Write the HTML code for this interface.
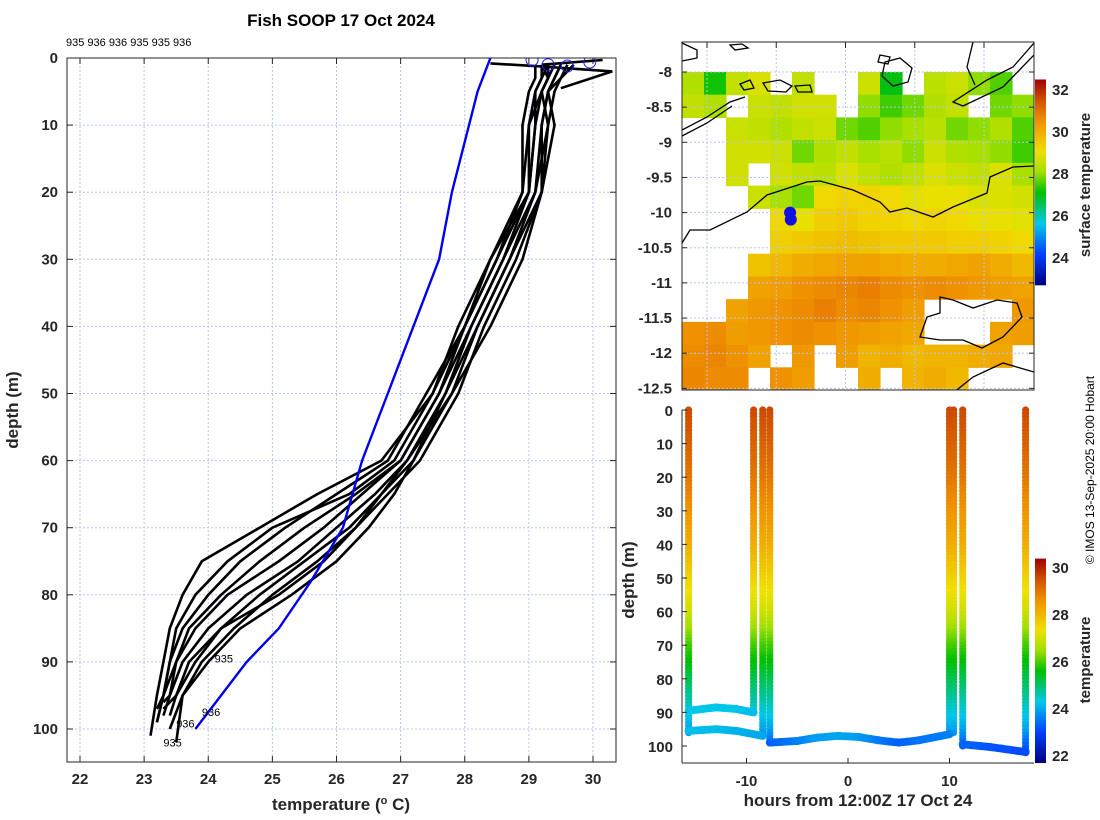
<!DOCTYPE html>
<html><head><meta charset="utf-8"><style>
html,body{margin:0;padding:0;background:#fff;}
svg{display:block;font-family:"Liberation Sans","DejaVu Sans",sans-serif;}
.tk{font-size:15px;font-weight:bold;fill:#262626;}
.lb{font-size:17px;font-weight:bold;fill:#262626;}
</style></head><body>
<svg id="s" width="1100" height="820" viewBox="0 0 1100 820">
<defs>
<linearGradient id="cb" x1="0" y1="1" x2="0" y2="0">
<stop offset="0" stop-color="#000080"/><stop offset="0.15" stop-color="#0040ff"/><stop offset="0.3" stop-color="#00c8e8"/><stop offset="0.45" stop-color="#00c000"/><stop offset="0.55" stop-color="#a0e000"/><stop offset="0.65" stop-color="#f0e000"/><stop offset="0.8" stop-color="#f09000"/><stop offset="0.9" stop-color="#d05000"/><stop offset="1" stop-color="#a00000"/>
</linearGradient>
<clipPath id="mapclip"><rect x="682" y="42" width="352" height="348"/></clipPath>
<clipPath id="lclip"><rect x="67" y="58" width="549" height="704"/></clipPath>
</defs>
<text x="341" y="26" text-anchor="middle" style="font-size:17px;font-weight:bold">Fish SOOP 17 Oct 2024</text>
<text x="66" y="46" style="font-size:11px">935 936 936 935 935 936</text>
<g id="left"></g>
<g id="map"></g>
<g id="low"></g>
<text transform="translate(1094,470) rotate(-90)" text-anchor="middle" style="font-size:12px">© IMOS 13-Sep-2025 20:00 Hobart</text>
</svg>
<script>
// ---------- LEFT PROFILE DATA ----------
const depths=[1,3,5,10,20,30,40,50,60,65,70,75,80,85,90,95,97];
const endDepth=[97,98,99,100,101,102,96,97,99,98];
const profiles=[
[29.2,29.3,29.2,29.1,29.0,28.6,28.1,27.6,27.0,26.3,25.5,24.8,24.2,23.7,23.5,23.3,23.2],
[29.5,29.4,29.3,29.2,29.1,28.7,28.2,27.7,27.1,26.6,26.0,25.4,24.6,24.0,23.6,23.4,23.3],
[29.3,29.2,29.1,29.0,28.9,28.4,27.9,27.5,26.9,26.2,25.0,24.3,23.8,23.5,23.4,23.3,23.2],
[29.6,29.5,29.4,29.3,29.2,28.8,28.3,27.9,27.3,26.8,26.3,25.7,25.0,24.4,23.9,23.6,23.4],
[29.1,29.1,29.0,28.9,28.9,28.5,28.0,27.5,26.7,25.7,24.8,23.9,23.6,23.4,23.3,23.2,23.1],
[29.4,29.3,29.2,29.3,29.1,28.6,28.1,27.7,27.2,26.9,26.5,26.0,25.3,24.5,24.0,23.6,23.5],
[29.2,29.2,29.1,29.1,29.0,28.5,28.0,27.6,27.0,26.4,25.8,25.1,24.3,23.8,23.5,23.4,23.3],
[29.7,29.5,29.3,29.2,29.2,28.9,28.4,27.8,27.2,26.7,26.2,25.5,24.8,24.2,23.7,23.5,23.3],
[29.3,29.3,29.2,29.0,29.0,28.4,28.0,27.4,26.8,26.0,25.2,24.5,24.0,23.6,23.4,23.3,23.2],
[29.5,29.4,29.3,29.4,29.2,28.7,28.2,27.8,27.1,26.7,26.3,25.8,25.1,24.2,23.8,23.5,23.4]];
const surfT=[28.4,29.1,30.3,29.5];
const surfD=[0.8,1.2,2.0,4.5];
const surf2T=[29.2,30.15];
const surf2D=[1.0,0.3];
const climT=[28.4,28.2,27.8,27.6,27.2,26.8,26.4,26.1,25.6,25.1,24.6,23.8];
const climD=[0,5,20,30,40,50,60,70,78,85,90,100];
const markT=[29.05,29.3,29.6,29.95];
const markD=[0.3,1.0,1.2,0.6];
const xTicks=[22,23,24,25,26,27,28,29,30];
const yTicks=[0,10,20,30,40,50,60,70,80,90,100];
const idLabels=["935","936","936","935"];
const idT=[24.1,23.9,23.5,23.3];
const idD=[89.5,97.5,99.2,102];

// ---------- MAP DATA ----------
const latTicks=[-8,-8.5,-9,-9.5,-10,-10.5,-11,-11.5,-12,-12.5];
const lonTicks=[127,128,129,130,131];
const sstGrid=[
[28.3,27.2,28.5,28.8,null,28.5,null,null,28.6,27,null,28.4,28.6,28,27.6,null],
[28.5,28.3,null,28.6,28.5,28.7,28.7,null,28,27.5,27.8,28.3,28.5,null,27.8,28],
[null,null,28.6,28.5,28.3,28.5,28.6,27.8,27.6,28,28.2,28.4,27.8,28,28.3,27.6],
[null,null,28.7,28.7,28.6,27.8,28.3,28.5,28.2,28.4,28,28.6,28.3,28.2,28,27.5],
[null,null,28.7,null,28.7,28.5,28.4,28.8,28.5,28.3,28.5,28.8,28.6,28.5,28.8,28.2],
[null,null,null,28.6,28.2,27.8,29.2,29.3,29.3,29.2,28.9,29,29,28.8,28.8,28.7],
[null,null,null,null,29.2,29.0,29.4,29.5,29.3,29.3,29.2,29.3,29.2,29,29,28.9],
[null,null,null,null,29.4,29.5,29.6,29.7,29.6,29.5,29.5,29.5,29.4,29.4,29.3,29.2],
[null,null,null,29.6,29.8,30,30.1,30.2,30.2,30.1,30.0,30.0,30.1,30.2,30,29.8],
[null,null,null,30.2,30.3,30.5,30.6,30.7,30.8,30.6,30.5,30.6,30.5,30.4,30.3,30.2],
[null,null,30.2,30.4,30.5,30.6,30.8,30.6,30.7,30.5,30.3,null,null,null,null,30.4],
[30.5,30.6,30.3,30.4,30.5,30.6,30.5,30.4,30.3,30.2,30.1,null,null,null,30.2,30.3],
[30.6,30.7,30.5,30.2,null,30.4,null,30.3,29.9,30.0,29.8,29.9,29.9,30.0,30.1,null],
[30.7,30.6,30.6,null,30.5,30.3,null,null,30,null,29.9,30,29.8,null,null,null]];
const shipLon=[128.2,128.21];
const shipLat=[-10.0,-10.1];
const sstCbTicks=[24,26,28,30,32];

// ---------- LOWER DATA ----------
const hrTicks=[-10,0,10];
const lowYTicks=[0,10,20,30,40,50,60,70,80,90,100];
const castHour=[-15.7,-9.3,-8.4,-7.7,10.0,10.4,11.3,17.5];
const castMax=[96,90,97,99,96,96,100,102];
const tProfD=[0,20,30,40,50,60,70,80,90,95,100,103];
const tProfT=[29.6,29.0,28.6,28.2,27.6,27.0,26.0,25.2,24.4,24.0,23.3,23.0];
const trackAH=[-15.7,-13,-11,-9.3], trackAD=[89.5,88.5,89,90], trackAT=[24.3,24.3,24.3,24.2];
const trackBH=[-15.7,-13,-11,-8.4], trackBD=[95.5,95,95.5,97], trackBT=[24.2,24.2,24.1,24.0];
const trackCH=[-7.7,-5,-3,-1,1,3,5,7,10], trackCD=[99,98.5,97.5,97,97.3,98.3,99,98.3,96.5], trackCT=[23.3,23.6,23.9,24.0,23.9,23.6,23.3,23.5,23.6];
const trackDH=[11.3,14,17.5], trackDD=[99.5,100.3,101.8], trackDT=[23.4,23.2,23.1];
const tCbTicks=[22,24,26,28,30];

const NS='http://www.w3.org/2000/svg';
function mk(p,tag,at){const e=document.createElementNS(NS,tag);for(const k in at)e.setAttribute(k,at[k]);p.appendChild(e);return e;}
const stops=[[0,[0,0,128]],[0.15,[0,64,255]],[0.3,[0,200,232]],[0.45,[0,192,0]],[0.55,[160,224,0]],[0.65,[240,224,0]],[0.8,[240,144,0]],[0.9,[208,80,0]],[1,[160,0,0]]];
function cmap(f){f=Math.max(0,Math.min(1,f));for(let i=1;i<stops.length;i++){if(f<=stops[i][0]){const a=stops[i-1],b=stops[i],t=(f-a[0])/(b[0]-a[0]);const c=a[1].map((v,j)=>Math.round(v+(b[1][j]-v)*t));return `rgb(${c})`;}}return 'rgb(160,0,0)';}

// ===== LEFT =====
const L=document.getElementById('left');
const lx=t=>80+(t-22)*64.125, ly=d=>58+d*6.71;
xTicks.forEach(t=>{const g=mk(L,'line',{x1:lx(t),x2:lx(t),y1:58,y2:762,stroke:'#b8c6ea','stroke-dasharray':'2,2','stroke-width':1});
 const tx=mk(L,'text',{x:lx(t),y:784,'text-anchor':'middle',class:'tk'});tx.textContent=t;
 mk(L,'line',{x1:lx(t),x2:lx(t),y1:762,y2:756,stroke:'#262626'});mk(L,'line',{x1:lx(t),x2:lx(t),y1:58,y2:64,stroke:'#262626'});});
yTicks.forEach(d=>{const g=mk(L,'line',{x1:67,x2:616,y1:ly(d),y2:ly(d),stroke:'#b8c6ea','stroke-dasharray':'2,2','stroke-width':1});
 const tx=mk(L,'text',{x:58,y:ly(d)+5,'text-anchor':'end',class:'tk'});tx.textContent=d;
 mk(L,'line',{x1:67,x2:73,y1:ly(d),y2:ly(d),stroke:'#262626'});mk(L,'line',{x1:616,x2:610,y1:ly(d),y2:ly(d),stroke:'#262626'});});
const LG=mk(L,'g',{'clip-path':'url(#lclip)'});
function pl(T,D){return T.map((t,i)=>lx(t).toFixed(1)+','+ly(D[i]).toFixed(1)).join(' ');}
profiles.forEach((p,k)=>{const D=depths.slice();D[D.length-1]=endDepth[k];const e=mk(LG,'polyline',{points:pl(p,D),fill:'none',stroke:'#000','stroke-width':2.6,'stroke-linejoin':'round'});});
let e=mk(LG,'polyline',{points:pl(surfT,surfD),fill:'none',stroke:'#000','stroke-width':2.6});
e=mk(LG,'polyline',{points:pl(surf2T,surf2D),fill:'none',stroke:'#000','stroke-width':2.6});
e=mk(LG,'polyline',{points:pl(climT,climD),fill:'none',stroke:'#0000ee','stroke-width':2.4});
markT.forEach((t,i)=>{const c=mk(LG,'ellipse',{cx:lx(t),cy:ly(markD[i]),rx:6,ry:6,fill:'none',stroke:'#2020ff','stroke-width':1});});
idLabels.forEach((s,i)=>{const t=mk(L,'text',{x:lx(idT[i]),y:ly(idD[i])+4,style:'font-size:11px'});t.textContent=s;});
e=mk(L,'rect',{x:67,y:58,width:549,height:704,fill:'none',stroke:'#262626','stroke-width':1});
e=mk(L,'text',{x:341,y:810,'text-anchor':'middle',class:'lb'});e.innerHTML='temperature (<tspan dy="-6" style="font-size:11px">o</tspan><tspan dy="6"> C)</tspan>';
e=mk(L,'text',{transform:'translate(18,410) rotate(-90)','text-anchor':'middle',class:'lb'});e.textContent='depth (m)';

// ===== MAP =====
const M=document.getElementById('map');
const mx=lon=>707+(lon-127)*69.25, my=lat=>72+(-8-lat)*70.3;
const MG=mk(M,'g',{'clip-path':'url(#mapclip)'});
const rows=sstGrid.length, cols=sstGrid[0].length, cw=352/cols, ch=(390-72)/rows;
sstGrid.forEach((r,i)=>r.forEach((v,j)=>{if(v===null)return;const c=mk(MG,'rect',{x:(682+j*cw).toFixed(1),y:(72+i*ch).toFixed(1),width:(cw+0.6).toFixed(1),height:(ch+0.6).toFixed(1),fill:cmap((v-22.7)/(32.5-22.7))});}));
latTicks.forEach(l=>{mk(MG,'line',{x1:682,x2:1034,y1:my(l),y2:my(l),stroke:'#b8c6ea','stroke-dasharray':'2,2'});
 const t=mk(M,'text',{x:672,y:my(l)+5,'text-anchor':'end',class:'tk'});t.textContent=l;
 mk(M,'line',{x1:1034,x2:1029,y1:my(l),y2:my(l),stroke:'#262626'});mk(M,'line',{x1:682,x2:687,y1:my(l),y2:my(l),stroke:'#262626'});});
lonTicks.forEach(l=>{mk(MG,'line',{x1:mx(l),x2:mx(l),y1:42,y2:390,stroke:'#b8c6ea','stroke-dasharray':'2,2'});
 const t=mk(M,'text',{x:mx(l),y:421,'text-anchor':'middle',class:'tk'});t.textContent=l;
 mk(M,'line',{x1:mx(l),x2:mx(l),y1:42,y2:48,stroke:'#262626'});});
const coasts=["M682,243 L690,230 L710,230 L747,212 L767,195 L807,182 L820,181 L853,190 L880,202 L890,212 L907,208 L933,217 L953,207 L987,193 L990,177 L1013,167 L1034,166",
"M682,130 L707,117 L730,102 L745,97","M682,136 L707,123 L732,106","M682,43 L697,50 L697,58 L682,61",
"M1034,43 L1013,67 L987,80 L953,102 L963,106 L1003,87 L1034,55","M973,42 L967,67 L975,85",
"M940,297 L953,300 L973,308 L997,300 L1017,303 L1022,317 L1003,337 L982,348 L963,340 L940,340 L920,337 L927,317 L940,313 Z",
"M1034,372 L1003,363 L973,377 L953,393","M885,62 L900,58 L912,68 L908,82 L893,86 L882,76 Z","M880,55 L890,57 L888,64 L878,62 Z",
"M763,83 L780,80 L792,86 L786,92 L768,91 Z","M795,86 L810,85 L812,92 L798,92 Z","M730,45 L742,44 L748,48 L735,50 Z","M740,84 L750,80 L754,88 L744,90 Z"];
coasts.forEach(d=>{const p=mk(MG,'path',{d:d,fill:'none',stroke:'#000','stroke-width':1.3});});
shipLon.forEach((l,i)=>{const c=mk(MG,'circle',{cx:mx(l),cy:my(shipLat[i]),r:6,fill:'#1010e0'});});
e=mk(M,'rect',{x:682,y:42,width:352,height:348,fill:'none',stroke:'#262626'});
const sy=v=>90+(32-v)*21;
e=mk(M,'rect',{x:1035,y:sy(32.5),width:11,height:sy(22.7)-sy(32.5),fill:'url(#cb)'});
sstCbTicks.forEach(v=>{const t=mk(M,'text',{x:1052,y:sy(v)+5,class:'tk'});t.textContent=v;});
e=mk(M,'text',{transform:'translate(1090,185) rotate(-90)','text-anchor':'middle',class:'lb',style:'font-size:15px'});e.textContent='surface temperature';

// ===== LOWER =====
const W=document.getElementById('low');
const hx=h=>848+h*10.15, hy=d=>410+d*3.36;
e=mk(W,'rect',{x:682,y:408,width:352,height:356,fill:'#fff'});
const tc=t=>cmap((t-21.7)/(30.4-21.7));
function tAt(d){for(let i=1;i<tProfD.length;i++){if(d<=tProfD[i]){const f=(d-tProfD[i-1])/(tProfD[i]-tProfD[i-1]);return tProfT[i-1]+f*(tProfT[i]-tProfT[i-1]);}}return tProfT[tProfT.length-1];}
castHour.forEach((h,k)=>{for(let d=0;d<=castMax[k];d+=1){const c=mk(W,'circle',{cx:hx(h).toFixed(1),cy:hy(d).toFixed(1),r:3.6,fill:tc(tAt(d))});}});
[[trackAH,trackAD,trackAT],[trackBH,trackBD,trackBT],[trackCH,trackCD,trackCT],[trackDH,trackDD,trackDT]].forEach(([H,D,T])=>{
 for(let i=1;i<H.length;i++){const n=Math.ceil((H[i]-H[i-1])*4);for(let s=0;s<=n;s++){const f=s/n;const c=mk(W,'circle',{cx:hx(H[i-1]+f*(H[i]-H[i-1])).toFixed(1),cy:hy(D[i-1]+f*(D[i]-D[i-1])).toFixed(1),r:4,fill:tc(T[i-1]+f*(T[i]-T[i-1]))});}}});
mk(W,'line',{x1:682,x2:682,y1:410,y2:763,stroke:'#262626'});mk(W,'line',{x1:682,x2:1034,y1:763,y2:763,stroke:'#262626'});
lowYTicks.forEach(d=>{const t=mk(W,'text',{x:673,y:hy(d)+6,'text-anchor':'end',class:'tk'});t.textContent=d;mk(W,'line',{x1:682,x2:687,y1:hy(d),y2:hy(d),stroke:'#262626'});});
hrTicks.forEach(h=>{const t=mk(W,'text',{x:hx(h),y:786,'text-anchor':'middle',class:'tk'});t.textContent=h;mk(W,'line',{x1:hx(h),x2:hx(h),y1:763,y2:758,stroke:'#262626'});});
e=mk(W,'text',{x:858,y:806,'text-anchor':'middle',class:'lb'});e.textContent='hours from 12:00Z 17 Oct 24';
e=mk(W,'text',{transform:'translate(634,580) rotate(-90)','text-anchor':'middle',class:'lb'});e.textContent='depth (m)';
const ty=v=>568+(30-v)*23.5;
e=mk(W,'rect',{x:1035,y:ty(30.4),width:11,height:ty(21.7)-ty(30.4),fill:'url(#cb)'});
tCbTicks.forEach(v=>{const t=mk(W,'text',{x:1052,y:ty(v)+5,class:'tk'});t.textContent=v;});
e=mk(W,'text',{transform:'translate(1090,660) rotate(-90)','text-anchor':'middle',class:'lb',style:'font-size:15px'});e.textContent='temperature';
</script>
</body></html>
